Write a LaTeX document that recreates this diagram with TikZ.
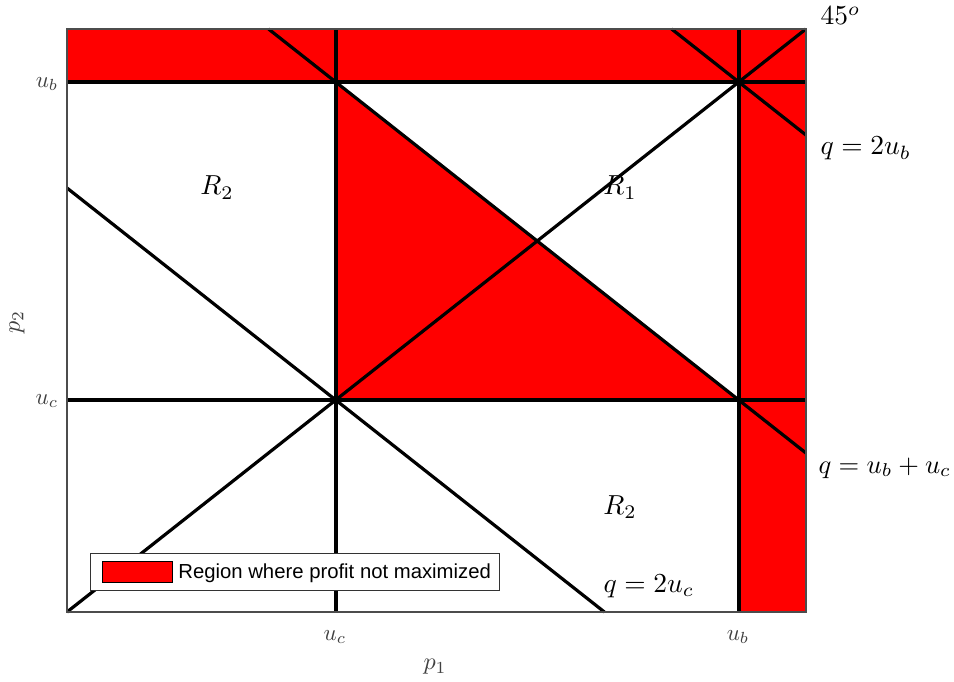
\documentclass[tikz,border=0pt]{standalone}
\usepackage{fontspec}
\newfontfamily\legendfont{Liberation Sans}
\definecolor{pure}{RGB}{255,0,0}
\tikzset{
  redfill/.style={fill=pure, draw=none},
  gridline/.style={line width=4pt, black},
  slantline/.style={line width=3.2pt, black},
  axesbox/.style={draw=black!70, line width=1.2pt},
  biglabel/.style={inner sep=0pt, scale=2.75},
  ticklabel/.style={inner sep=0pt, scale=2.3, text=black!75},
  legendtext/.style={inner sep=0pt, anchor=west, font=\legendfont, scale=2.03}
}
\begin{document}
\begin{tikzpicture}[x=1pt, y=-1pt]
\useasboundingbox (0,0) rectangle (954,682);
\begin{scope}[shift={(67,612)}, x=268.7pt, y=212pt]
  \coordinate (o) at (0,0);
  \coordinate (tr) at (2.75,2.75);
  \coordinate (tl) at (0,2.75);
  \coordinate (br) at (2.75,0);
  \coordinate (cc) at (1,1);
  \coordinate (cb) at (1,2.5);
  \coordinate (bc) at (2.5,1);
  \coordinate (bb) at (2.5,2.5);
  \coordinate (c0) at (1,0);
  \coordinate (ct) at (1,2.75);
  \coordinate (b0) at (2.5,0);
  \coordinate (bt) at (2.5,2.75);
  \coordinate (lc) at (0,1);
  \coordinate (rc) at (2.75,1);
  \coordinate (lb) at (0,2.5);
  \coordinate (rb) at (2.75,2.5);
  \coordinate (l2) at (0,2);
  \coordinate (r2) at (2,0);
  \coordinate (m1) at (0.75,2.75);
  \coordinate (m2) at (2.75,0.75);
  \coordinate (n1) at (2.25,2.75);
  \coordinate (n2) at (2.75,2.25);
  % red regions
  \fill[redfill] (lb) rectangle (tr);
  \fill[redfill] (b0) rectangle (tr);
  \fill[redfill] (cc) -- (cb) -- (bc) -- cycle;
  % slanted lines
  \draw[slantline] (o) -- (tr);
  \draw[slantline] (l2) -- (r2);
  \draw[slantline] (m1) -- (m2);
  \draw[slantline] (n1) -- (n2);
  % grid lines
  \draw[gridline] (c0) -- (ct);
  \draw[gridline] (b0) -- (bt);
  \draw[gridline] (lc) -- (rc);
  \draw[gridline] (lb) -- (rb);
  % axes box
  \draw[axesbox] (o) rectangle (tr);
\end{scope}
% region labels
\node[biglabel, anchor=base] (r2a) at (217,195) {$R_2$};
\node[biglabel, anchor=base] (r1) at (620,195) {$R_1$};
\node[biglabel, anchor=base] (r2b) at (620,514) {$R_2$};
\node[biglabel, anchor=base west] (q2c) at (603,592) {$q = 2u_c$};
% outside labels
\node[biglabel, anchor=base west] (deg) at (820,25) {$45^o$};
\node[biglabel, anchor=base west] (q2b) at (820,155) {$q = 2u_b$};
\node[biglabel, scale=0.965, anchor=base west] (qbc) at (818,473) {$q = u_b + u_c$};
% ticks
\node[ticklabel] (tub) at (47,84) {$u_b$};
\node[ticklabel] (tuc) at (47,401) {$u_c$};
\node[ticklabel] (xuc) at (335,637) {$u_c$};
\node[ticklabel] (xub) at (738,637) {$u_b$};
\node[ticklabel, scale=1.05] (p1) at (435,667) {$p_1$};
\node[ticklabel, scale=1.05, rotate=90] (p2) at (17,322) {$p_2$};
% legend
\node[draw=black!80, line width=1pt, fill=white, minimum width=409pt, minimum height=37pt, inner sep=0pt] (legend) at (294.5,571.5) {};
\node[draw=black, line width=0.9pt, fill=pure, minimum width=70pt, minimum height=21pt, inner sep=0pt] (patch) at (137,571.5) {};
\node[legendtext] (ltext) at (178,573) {Region where profit not maximized};
\end{tikzpicture}
\end{document}
